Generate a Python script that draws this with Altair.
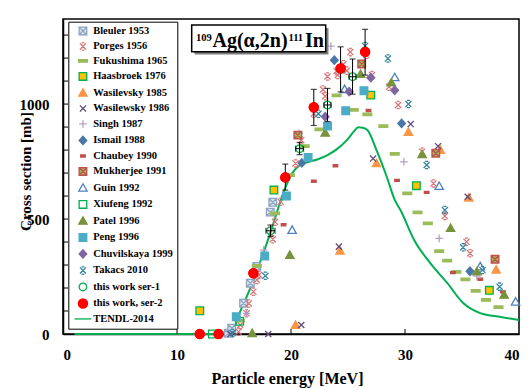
import altair as alt
import pandas as pd

# ---------------- data ----------------
series_names = ["Bleuler 1953", "Porges 1956", "Fukushima 1965", "Haasbroek 1976",
                "Wasilevsky 1985", "Wasilewsky 1986", "Singh 1987", "Ismail 1988",
                "Chaubey 1990", "Mukherjee 1991", "Guin 1992", "Xiufeng  1992",
                "Patel 1996", "Peng 1996", "Chuvilskaya 1999", "Takacs 2010",
                "this work ser-1", "this work, ser-2", "TENDL-2014"]

bleuler_e = [14.5, 14.8, 15.84, 16.43, 17.0, 18.18, 18.4]
bleuler_s = [3, 25, 134, 221, 294, 530, 573]
porges_e = [15.4, 15.55, 16.1, 16.3, 16.7, 17.0, 17.2, 18.4, 18.6, 19.1, 20.4, 20.9, 22.0, 22.8,
            23.0, 23.2, 24.0, 24.1, 24.6, 24.9, 25.2, 26.6, 27.1, 28.6, 29.4, 31.5, 32.5, 33.5,
            35.4, 35.7]
porges_s = [10, 39, 90, 133, 184, 235, 257, 412, 488, 575, 742, 843, 958, 1063,
            1034, 1120, 1143, 1126, 1173, 1145, 1226, 1213, 1126, 1075, 996, 793, 655, 513,
            401, 351]
fukushima_e = [15.5, 17.0, 18.6, 19.9, 21.2, 22.5, 24.0, 25.5, 26.7, 28.1, 29.1, 30.2, 31.1,
               32.0, 33.0, 33.7, 34.5, 35.3, 36.2, 37.1, 38.2]
fukushima_s = [58, 296, 525, 691, 817, 890, 1038, 975, 955, 904, 783, 612, 529,
               481, 360, 319, 270, 238, 188, 148, 117]
haasbroek_e = [12.0, 18.5, 27.0, 31.0, 37.4]
haasbroek_s = [101, 626, 1039, 645, 190]
wasil85_e = [20.4, 24.3, 27.5, 30.3, 33.1, 35.6, 38.0]
wasil85_s = [39, 362, 742, 878, 800, 592, 279]
wasil86_e = [14.7, 18.0, 20.9, 24.2, 27.2, 30.5, 32.9, 35.5]
wasil86_s = [0, 0, 39, 380, 763, 913, 817, 597]
singh_e = [16.1, 17.6, 20.7, 23.5, 29.9, 33.0, 36.3]
singh_s = [90, 365, 873, 1252, 749, 416, 252]
ismail_e = [20.95, 23.8, 29.7, 35.7]
ismail_s = [744, 1191, 916, 273]
chaubey_e = [19.35, 22.0, 23.9, 26.8, 29.3, 31.9, 34.2, 36.6, 38.6]
chaubey_s = [475, 664, 732, 972, 668, 616, 267, 238, 183]
mukherjee_e = [20.6, 26.2, 32.7, 37.9]
mukherjee_s = [865, 1174, 786, 325]
guin_e = [20.1, 24.7, 29.1, 33.0, 36.6, 39.7]
guin_s = [452, 1064, 1116, 643, 293, 140]
xiufeng_e = [13.1, 15.5]
xiufeng_s = [0, 55]
patel_e = [16.6, 19.9, 23.0, 26.1, 28.8, 31.5, 34.0, 36.3, 38.7]
patel_s = [3, 343, 875, 1130, 1093, 781, 460, 271, 170]
peng_e = [15.2, 17.7, 19.6, 21.5, 23.2, 24.8, 26.4]
peng_s = [75, 339, 600, 768, 904, 971, 1058]
chuvil_e = [23.0, 25.1, 27.0, 29.1]
chuvil_s = [945, 1054, 1115, 1060]
takacs_e = [14.9, 17.75, 22.4, 24.5, 26.5, 28.5, 30.3, 31.9, 33.5, 35.1, 36.8, 38.3]
takacs_s = [4, 253, 958, 1151, 1253, 1198, 1000, 735, 539, 377, 278, 206]
ser1_e = [18.2, 20.75, 23.2, 25.4]
ser1_s = [449, 806, 996, 1119]
ser2_e = [12.0, 13.65, 16.7, 19.5, 22.0, 24.35, 26.5]
ser2_s = [0, 0, 264, 681, 986, 1155, 1227]

tendl_e = [1.0, 14.5, 15.0, 15.26, 16.43, 17.46, 18.27, 19.32, 20.11, 20.8, 21.5, 22.3, 23.2,
           24.0, 24.9, 25.5, 25.9, 26.3, 26.7, 27.5, 28.4, 29.1, 29.6, 30.8, 32.2, 33.7,
           35.1, 36.6, 38.4, 40.0]
tendl_s = [0, 0, 22, 61, 200, 336, 452, 613, 700, 735, 748, 759, 778,
           803, 843, 880, 899, 897, 887, 800, 684, 583, 539, 409, 309, 222,
           135, 91, 74, 61]

# error bars of this work
ser2_bar_e = [19.5, 22.0, 24.35, 26.5]
ser2_bar_lo = [626, 907, 1053, 1126]
ser2_bar_hi = [739, 1064, 1249, 1325]
ser2_h_e = [16.7, 19.5, 22.0]
ser2_h_s = [264, 681, 986]
ser2_h_d = [0.3, 0.3, 0.3]
ser1_bar_e = [18.2, 20.75, 23.2, 25.4]
ser1_bar_lo = [424, 780, 924, 1043]
ser1_bar_hi = [474, 833, 1068, 1196]
ser1_h_d = [0.4, 0.35, 0.3, 0.3]

x_label_values = [0, 10, 20, 30, 40]
y_label_values = [0, 500, 1000]
x_minor = [10, 20, 30]
y_minor = [100, 200, 300, 400, 500, 600, 700, 800, 900, 1000, 1100, 1200, 1300]

# ---------------- styles ----------------
SQ = "M-1,-1L1,-1L1,1L-1,1Z"
XX = "M-0.8,-0.8L0.8,0.8M-0.8,0.8L0.8,-0.8"
STAR = "M-0.8,-0.8L0.8,0.8M-0.8,0.8L0.8,-0.8M-0.4,-0.95L0.4,-0.95M-0.4,0.95L0.4,0.95"
BAR = "M-1.15,-0.32L1.15,-0.32L1.15,0.32L-1.15,0.32Z"
SBAR = "M-0.6,-0.28L0.6,-0.28L0.6,0.28L-0.6,0.28Z"
TRI = "M0,-1.1L1.1,0.85L-1.1,0.85Z"
DIA = "M0,-1.1L1,0L0,1.1L-1,0Z"
PLUS = "M-1,0L1,0M0,-1L0,1"
CIRC = "M-1,0A1,1 0 1,0 1,0A1,1 0 1,0 -1,0Z"
BIGC = "M-1.2,0A1.2,1.2 0 1,0 1.2,0A1.2,1.2 0 1,0 -1.2,0Z"
LINE = "M-2.2,0L2.2,0"
T = "transparent"

shapes = [SQ + XX, STAR, BAR, SQ, TRI, XX, PLUS, DIA, SBAR, SQ + STAR, TRI, SQ,
          TRI, SQ, DIA, STAR, CIRC, BIGC, LINE]
fills = ["#DCE6F0", T, "#9BBB59", "#FFC000", "#F79646", T, T, "#4A76A8", "#C0504D",
         "#9BBB59", T, T, "#77933C", "#4BACC6", "#8064A2", T, T, "#FF0000", T]
strokes = ["#8EA4C0", "#D7777A", "#9BBB59", "#00B050", "#F79646", "#604A7B", "#B3A2C7",
           "#4A76A8", "#C0504D", "#C0504D", "#4F81BD", "#00B050", "#77933C", "#4BACC6",
           "#8064A2", "#31859C", "#00B050", "#FF0000", "#00B050"]

pairs = [(bleuler_e, bleuler_s), (porges_e, porges_s), (fukushima_e, fukushima_s),
         (haasbroek_e, haasbroek_s), (wasil85_e, wasil85_s), (wasil86_e, wasil86_s),
         (singh_e, singh_s), (ismail_e, ismail_s), (chaubey_e, chaubey_s),
         (mukherjee_e, mukherjee_s), (guin_e, guin_s), (xiufeng_e, xiufeng_s),
         (patel_e, patel_s), (peng_e, peng_s), (chuvil_e, chuvil_s), (takacs_e, takacs_s),
         (ser1_e, ser1_s), (ser2_e, ser2_s)]

rows = []
for name, (es, ss) in zip(series_names, pairs):
    for e, s in zip(es, ss):
        rows.append({"series": name, "E": e, "sigma": s})
pts = pd.DataFrame(rows)

xscale = alt.Scale(domain=[0, 40], nice=False, zero=False)
yscale = alt.Scale(domain=[0, 1370], nice=False, zero=False)

W, H = 456, 315
FONT = "Liberation Serif"

xaxis = alt.Axis(values=x_label_values, format="d", title="Particle energy [MeV]",
                 labelPadding=13, titleX=224, titleY=44, titleBaseline="middle",
                 titleFontSize=16)
yaxis = alt.Axis(values=y_label_values, format="d", title="Cross section [mb]",
                 labelPadding=14, titleX=-38, titleY=152, titleBaseline="middle",
                 titleAngle=270, titleAlign="center", titleFontSize=15)


def X(f):
    return alt.X(f, scale=xscale, axis=xaxis)


def Y(f):
    return alt.Y(f, scale=yscale, axis=yaxis)


line = alt.Chart(pd.DataFrame({"E": tendl_e, "sigma": tendl_s})).mark_line(
    color="#00B050", strokeWidth=2, interpolate="monotone"
).encode(x=X("E:Q"), y=Y("sigma:Q"))

points = alt.Chart(pts).mark_point(size=58, strokeWidth=1.3, opacity=1, filled=True).encode(
    x=X("E:Q"), y=Y("sigma:Q"),
    shape=alt.Shape("series:N", scale=alt.Scale(domain=series_names, range=shapes), title=None),
    fill=alt.Fill("series:N", scale=alt.Scale(domain=series_names, range=fills), title=None),
    stroke=alt.Stroke("series:N", scale=alt.Scale(domain=series_names, range=strokes), title=None),
)

# error bars
vbar = pd.DataFrame({"E": ser2_bar_e + ser1_bar_e, "lo": ser2_bar_lo + ser1_bar_lo,
                     "hi": ser2_bar_hi + ser1_bar_hi})
hbar = pd.DataFrame({"s": ser2_h_s + ser1_s,
                     "a": [e - d for e, d in zip(ser2_h_e, ser2_h_d)] + [e - d for e, d in zip(ser1_e, ser1_h_d)],
                     "b": [e + d for e, d in zip(ser2_h_e, ser2_h_d)] + [e + d for e, d in zip(ser1_e, ser1_h_d)]})

vrule = alt.Chart(vbar).mark_rule(color="black", strokeWidth=1).encode(
    x=X("E:Q"), y=Y("lo:Q"), y2="hi:Q")
vcap_lo = alt.Chart(vbar).mark_tick(color="black", orient="horizontal", size=6, thickness=1.2).encode(
    x=X("E:Q"), y=Y("lo:Q"))
vcap_hi = alt.Chart(vbar).mark_tick(color="black", orient="horizontal", size=6, thickness=1.2).encode(
    x=X("E:Q"), y=Y("hi:Q"))
hrule = alt.Chart(hbar).mark_rule(color="black", strokeWidth=1).encode(
    x=X("a:Q"), x2="b:Q", y=Y("s:Q"))
hcap_a = alt.Chart(hbar).mark_tick(color="black", orient="vertical", size=6, thickness=1.2).encode(
    x=X("a:Q"), y=Y("s:Q"))
hcap_b = alt.Chart(hbar).mark_tick(color="black", orient="vertical", size=6, thickness=1.2).encode(
    x=X("b:Q"), y=Y("s:Q"))

red_top = alt.Chart(pd.DataFrame({"E": ser2_e, "sigma": ser2_s})).mark_point(
    size=58, filled=True, opacity=1, fill="#FF0000", stroke="#FF0000", shape=BIGC, strokeWidth=1
).encode(x=X("E:Q"), y=Y("sigma:Q"))

# inward ticks
ytick = alt.Chart(pd.DataFrame({"v": y_minor})).mark_rule(color="black", strokeWidth=1).encode(
    y=Y("v:Q"), x=alt.value(0), x2=alt.value(5))
xtick = alt.Chart(pd.DataFrame({"v": x_minor})).mark_rule(color="black", strokeWidth=1).encode(
    x=X("v:Q"), y=alt.value(H), y2=alt.value(H - 5))

# title box
one = pd.DataFrame({"k": [0]})
shadow = alt.Chart(one).mark_rect(color="#7F7F7F").encode(
    x=alt.value(131.5), x2=alt.value(265.5), y=alt.value(9), y2=alt.value(35.5))
box = alt.Chart(one).mark_rect(fill="white", stroke="black", strokeWidth=1.5).encode(
    x=alt.value(128.7), x2=alt.value(262.7), y=alt.value(6), y2=alt.value(32.7))


def txt(s, x, y, size):
    return alt.Chart(one).mark_text(text=s, font=FONT, fontWeight="bold", fontSize=size,
                                    align="left", baseline="alphabetic", color="black").encode(
        x=alt.value(x), y=alt.value(y))


title_parts = [txt("109", 133, 21.5, 10.5), txt("Ag(α,2n)", 149.5, 27.7, 20),
               txt("111", 225.5, 21.5, 10.5), txt("In", 242, 27.7, 20)]

chart = alt.layer(
    line, points, vrule, vcap_lo, vcap_hi, hrule, hcap_a, hcap_b, red_top, ytick, xtick,
    shadow, box, *title_parts
).properties(
    width=W, height=H,
    autosize=alt.AutoSizeParams(type="none"),
    padding={"left": 63, "top": 19, "right": 10, "bottom": 54},
).configure_view(
    stroke="black", strokeWidth=1.5
).configure_axis(
    grid=False, domainColor="black", domainWidth=1.5, tickSize=0, ticks=False,
    labelFont=FONT, labelFontWeight="bold", labelFontSize=15, labelColor="black",
    titleFont=FONT, titleFontWeight="bold", titleColor="black"
).configure_legend(
    orient="none", legendX=5.3, legendY=2.7, padding=4, strokeColor="black",
    fillColor="white", rowPadding=2.5, symbolOffset=5.4, labelOffset=5,
    symbolSize=58, symbolStrokeWidth=1.3, labelFont=FONT, labelFontSize=10.5,
    labelFontWeight="bold", labelColor="black"
)

chart.save("out.html", embed_options={"renderer": "svg", "actions": False})
